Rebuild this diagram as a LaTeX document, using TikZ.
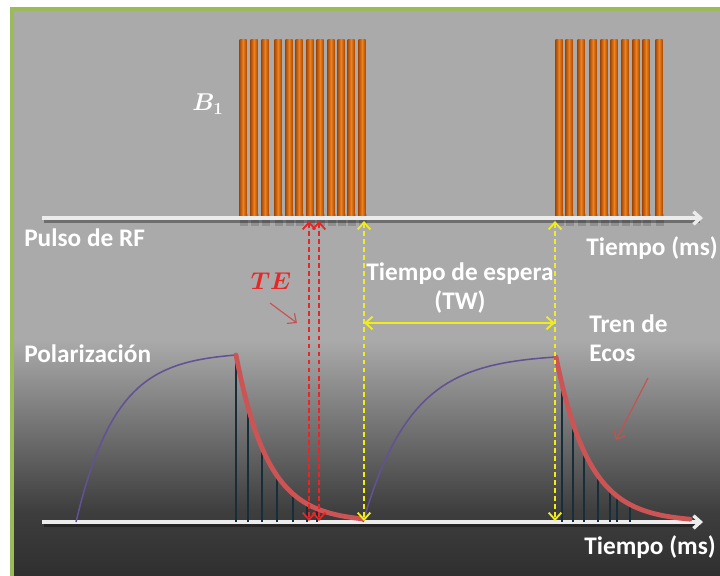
\documentclass[tikz,border=0pt]{standalone}
\usepackage{bm}
\usepackage{fontspec}
\setmainfont{Carlito}
\usetikzlibrary{arrows.meta}

\definecolor{panelcol}{RGB}{170,170,170}
\definecolor{panelmid}{RGB}{62,62,62}
\definecolor{paneldark}{RGB}{44,44,44}
\definecolor{framecol}{RGB}{155,187,89}
\definecolor{pulsedark}{RGB}{170,75,5}
\definecolor{pulselight}{RGB}{240,130,30}
\definecolor{ecocol}{RGB}{205,84,84}
\definecolor{polarcol}{RGB}{98,82,148}
\definecolor{spikecol}{RGB}{22,46,58}
\definecolor{amarillo}{RGB}{240,236,30}
\definecolor{rojo}{RGB}{232,38,38}
\definecolor{flechacol}{RGB}{200,80,80}
\definecolor{ejecol}{RGB}{236,236,236}

\begin{document}
\begin{tikzpicture}[x=0.025cm, y=-0.025cm,
  >={Straight Barb[length=5pt,width=9pt]},
  etiqueta/.style={text=white, font=\bfseries\fontsize{18}{21}\selectfont, inner sep=0pt},
  eje/.style={ejecol, line width=2.4pt, ->},
  sombra/.style={black, opacity=.35, line width=2.4pt},
  espiga/.style={spikecol, line width=2pt},
  tedash/.style={rojo, line width=1.3pt, dash pattern=on 3.5pt off 2.2pt, <->},
  twdash/.style={amarillo, line width=1.3pt, dash pattern=on 3.5pt off 2.2pt, <->},
  pointer/.style={flechacol, line width=.8pt, ->}]
  \useasboundingbox (0,0) rectangle (720,575);

  % --- fondo del panel ---
  \fill[panelcol] (12,9) rectangle (730,590);
  \shade[top color=panelcol, bottom color=panelmid] (12,340) rectangle (730,511);
  \shade[top color=panelmid, bottom color=paneldark] (12,510) rectangle (730,590);
  \draw[framecol, line width=3pt] (12,590) -- (12,9) -- (730,9);

  % --- pulsos de RF (B1) ---
  \foreach \c in {243,254,265,278,289,299,310,320,331,341,351,362,559,569,581,593,604,614,625,636,646,659}{
    \fill[black, opacity=.15] (\c-3,214) rectangle (\c+5,226);
    \shade[left color=pulsedark, right color=pulsedark, middle color=pulselight] (\c-3.5,39) rectangle (\c+3.5,218);
  }
  \draw[sombra] (44,221) -- (700,221);
  \draw[eje] (42,218) -- (703,218);

  % --- eje inferior ---
  \draw[sombra] (44,525) -- (700,525);
  \draw[eje] (42,522) -- (703,522);

  % --- polarizacion: M = M0 (1 - exp(-t/T1)) ---
  \draw[polarcol, line width=1.1pt, domain=76:236, samples=40] plot (\x, {522-167*(1-exp(-4*(\x-76)/160))/(1-exp(-4))});
  \draw[polarcol, line width=1.1pt, domain=363:556, samples=40] plot (\x, {522-165*(1-exp(-4*(\x-363)/193))/(1-exp(-4))});

  % --- tren de ecos ---
  \foreach \s in {236,248,262,277,293,307,317}
    \draw[espiga] (\s,522) -- (\s,{522-167*exp(-(\s-236)/32)});
  \foreach \s in {562,573,584,598,610,617,630}
    \draw[espiga] (\s,522) -- (\s,{522-165*exp(-(\s-556)/33)});
  \draw[ecocol, line width=3.4pt, line cap=round, domain=236:363, samples=50] plot (\x, {522-167*exp(-(\x-236)/32)});
  \draw[ecocol, line width=3.4pt, line cap=round, domain=556:690, samples=50] plot (\x, {522-165*exp(-(\x-556)/33)});

  % --- TE y TW ---
  \coordinate (te1a) at (309,221);
  \coordinate (te1b) at (309,521);
  \coordinate (te2a) at (319,221);
  \coordinate (te2b) at (319,521);
  \coordinate (tw1a) at (364,221);
  \coordinate (tw1b) at (364,521);
  \coordinate (tw2a) at (555,221);
  \coordinate (tw2b) at (555,521);
  \coordinate (tw1m) at (364,323);
  \coordinate (tw2m) at (555,323);
  \draw[tedash] (te1a) -- (te1b);
  \draw[tedash] (te2a) -- (te2b);
  \draw[twdash] (tw1a) -- (tw1b);
  \draw[twdash] (tw2a) -- (tw2b);
  \draw[amarillo, line width=1.4pt, <->] (tw1m) -- (tw2m);

  % --- etiquetas ---
  \node[text=white, font=\fontsize{17}{19}\selectfont] (campo) at (208,104) {$\bm{B}_{\bm{1}}$};
  \node[etiqueta, anchor=west] (pulso) at (24,238) {Pulso de RF};
  \node[etiqueta, anchor=west] (tiempoa) at (586,248) {Tiempo (ms)};
  \node[etiqueta, align=center] (espera) at (460,288) {Tiempo de espera\\{}(TW)};
  \node[text=rojo, font=\fontsize{16}{18}\selectfont] (teeco) at (271,281) {$\bm{TE}$};
  \node[etiqueta, anchor=west] (polariz) at (24,354) {Polarización};
  \node[etiqueta, anchor=west, align=left] (tren) at (589,338) {Tren de\\Ecos};
  \node[etiqueta, anchor=west] (tiempob) at (584,547) {Tiempo (ms)};

  \coordinate (tea) at (270,303);
  \coordinate (teb) at (297,323);
  \coordinate (trena) at (648,378);
  \coordinate (trenb) at (616,440);
  \draw[pointer] (tea) -- (teb);
  \draw[pointer] (trena) -- (trenb);
\end{tikzpicture}
\end{document}
